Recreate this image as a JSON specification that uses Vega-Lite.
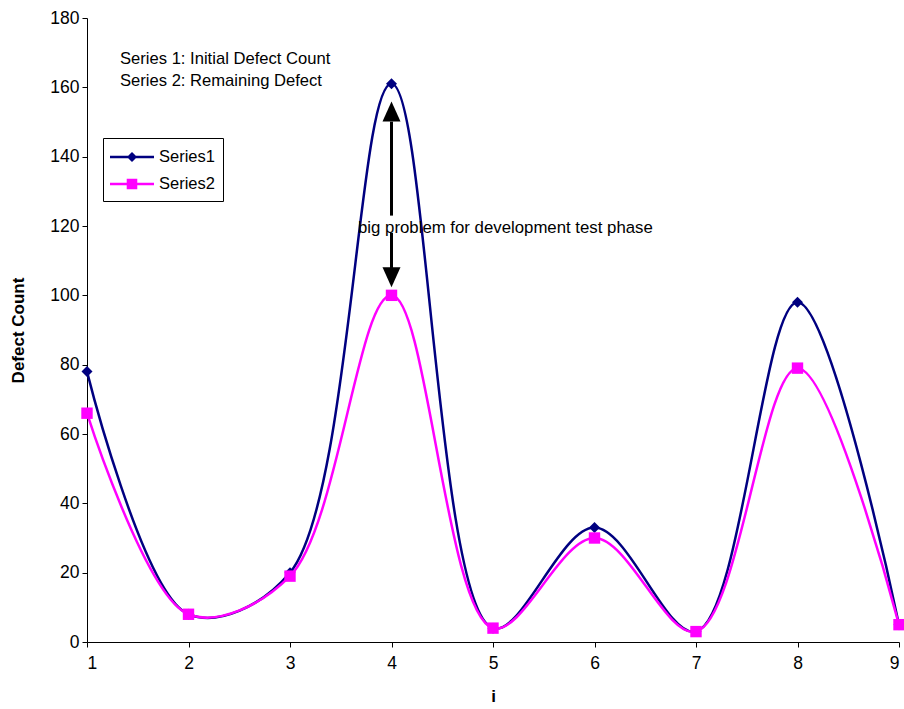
{
  "$schema": "https://vega.github.io/schema/vega-lite/v6.json",
  "width": 812,
  "height": 624,
  "autosize": {"type": "none"},
  "padding": {"left": 87, "top": 18, "right": 5, "bottom": 67},
  "background": "white",
  "config": {
    "view": {"stroke": null},
    "font": "Liberation Sans",
    "axis": {
      "grid": false,
      "domainColor": "black",
      "domainWidth": 1,
      "tickColor": "black",
      "tickSize": 5,
      "labelFontSize": 17.5,
      "labelColor": "black",
      "labelFont": "Liberation Sans",
      "titleFont": "Liberation Sans",
      "titleFontSize": 17,
      "titleFontWeight": "bold",
      "titleColor": "black"
    },
    "legend": {
      "title": null,
      "orient": "none",
      "legendX": 16,
      "legendY": 120,
      "strokeColor": "black",
      "fillColor": "white",
      "padding": 8,
      "rowPadding": 7,
      "labelFontSize": 16.5,
      "labelColor": "black",
      "labelFont": "Liberation Sans",
      "symbolOpacity": 1,
      "symbolStrokeWidth": 0,
      "symbolSize": 484,
      "symbolOffset": 10,
      "labelOffset": 16
    }
  },
  "datasets": {
    "defects": [
      {"i": 1, "series": "Series1", "value": 78},
      {"i": 2, "series": "Series1", "value": 8},
      {"i": 3, "series": "Series1", "value": 20},
      {"i": 4, "series": "Series1", "value": 161},
      {"i": 5, "series": "Series1", "value": 4},
      {"i": 6, "series": "Series1", "value": 33},
      {"i": 7, "series": "Series1", "value": 3},
      {"i": 8, "series": "Series1", "value": 98},
      {"i": 9, "series": "Series1", "value": 5},
      {"i": 1, "series": "Series2", "value": 66},
      {"i": 2, "series": "Series2", "value": 8},
      {"i": 3, "series": "Series2", "value": 19},
      {"i": 4, "series": "Series2", "value": 100},
      {"i": 5, "series": "Series2", "value": 4},
      {"i": 6, "series": "Series2", "value": 30},
      {"i": 7, "series": "Series2", "value": 3},
      {"i": 8, "series": "Series2", "value": 79},
      {"i": 9, "series": "Series2", "value": 5}
    ],
    "one": [{}]
  },
  "layer": [
    {
      "data": {"name": "defects"},
      "mark": {"type": "point", "filled": true, "opacity": 0, "size": 484},
      "encoding": {
        "x": {
          "field": "i",
          "type": "quantitative",
          "scale": {"domain": [1, 9], "nice": false, "zero": false},
          "axis": {"values": [1, 2, 3, 4, 5, 6, 7, 8, 9], "title": "i", "labelPadding": 7, "titlePadding": 17, "format": "d"}
        },
        "y": {
          "field": "value",
          "type": "quantitative",
          "scale": {"domain": [0, 180], "nice": false},
          "axis": {"values": [0, 20, 40, 60, 80, 100, 120, 140, 160, 180], "title": "Defect Count", "labelPadding": 3, "titlePadding": 22}
        },
        "color": {
          "field": "series",
          "type": "nominal",
          "scale": {"domain": ["Series1", "Series2"], "range": ["#000080", "#FF00FF"]},
          "legend": {"title": null}
        },
        "shape": {
          "field": "series",
          "type": "nominal",
          "scale": {
            "domain": ["Series1", "Series2"],
            "range": [
              "M-2,-0.11H2V0.11H-2Z M0,-0.46L0.46,0L0,0.46L-0.46,0Z",
              "M-2,-0.11H2V0.11H-2Z M-0.48,-0.48H0.48V0.48H-0.48Z"
            ]
          },
          "legend": {"title": null}
        }
      }
    },
    {
      "data": {"name": "defects"},
      "mark": {"type": "line", "interpolate": "catmull-rom", "strokeWidth": 2.5},
      "encoding": {
        "x": {"field": "i", "type": "quantitative"},
        "y": {"field": "value", "type": "quantitative"},
        "color": {"field": "series", "type": "nominal"}
      }
    },
    {
      "data": {"name": "defects"},
      "transform": [{"filter": "datum.series == 'Series1'"}],
      "mark": {"type": "point", "shape": "diamond", "filled": true, "size": 121, "opacity": 1, "color": "#000080"},
      "encoding": {
        "x": {"field": "i", "type": "quantitative"},
        "y": {"field": "value", "type": "quantitative"}
      }
    },
    {
      "data": {"name": "defects"},
      "transform": [{"filter": "datum.series == 'Series2'"}],
      "mark": {"type": "point", "shape": "square", "filled": true, "size": 130, "opacity": 1, "color": "#FF00FF"},
      "encoding": {
        "x": {"field": "i", "type": "quantitative"},
        "y": {"field": "value", "type": "quantitative"}
      }
    },
    {
      "data": {"name": "one"},
      "mark": {"type": "text", "align": "left", "baseline": "middle", "fontSize": 16.6, "color": "black", "lineHeight": 22, "font": "Liberation Sans"},
      "encoding": {
        "x": {"datum": 1.325, "type": "quantitative"},
        "y": {"datum": 168.2, "type": "quantitative"},
        "text": {"value": ["Series 1: Initial Defect Count", "Series 2: Remaining Defect"]}
      }
    },
    {
      "data": {"name": "one"},
      "mark": {"type": "text", "align": "left", "baseline": "middle", "fontSize": 16.8, "color": "black", "font": "Liberation Sans"},
      "encoding": {
        "x": {"datum": 3.67, "type": "quantitative"},
        "y": {"datum": 119.4, "type": "quantitative"},
        "text": {"value": "big problem for development test phase"}
      }
    },
    {
      "data": {"name": "one"},
      "mark": {"type": "rule", "strokeWidth": 3, "color": "black"},
      "encoding": {
        "x": {"datum": 4, "type": "quantitative"},
        "y": {"datum": 150.1, "type": "quantitative"},
        "y2": {"datum": 123.0}
      }
    },
    {
      "data": {"name": "one"},
      "mark": {"type": "rule", "strokeWidth": 3, "color": "black"},
      "encoding": {
        "x": {"datum": 4, "type": "quantitative"},
        "y": {"datum": 118.0, "type": "quantitative"},
        "y2": {"datum": 107.9}
      }
    },
    {
      "data": {"name": "one"},
      "mark": {"type": "point", "shape": "M0,-1L0.9,1L-0.9,1Z", "filled": true, "size": 400, "opacity": 1, "color": "black"},
      "encoding": {
        "x": {"datum": 4, "type": "quantitative"},
        "y": {"datum": 153.0, "type": "quantitative"}
      }
    },
    {
      "data": {"name": "one"},
      "mark": {"type": "point", "shape": "M0,1L0.9,-1L-0.9,-1Z", "filled": true, "size": 400, "opacity": 1, "color": "black"},
      "encoding": {
        "x": {"datum": 4, "type": "quantitative"},
        "y": {"datum": 105.2, "type": "quantitative"}
      }
    }
  ]
}
